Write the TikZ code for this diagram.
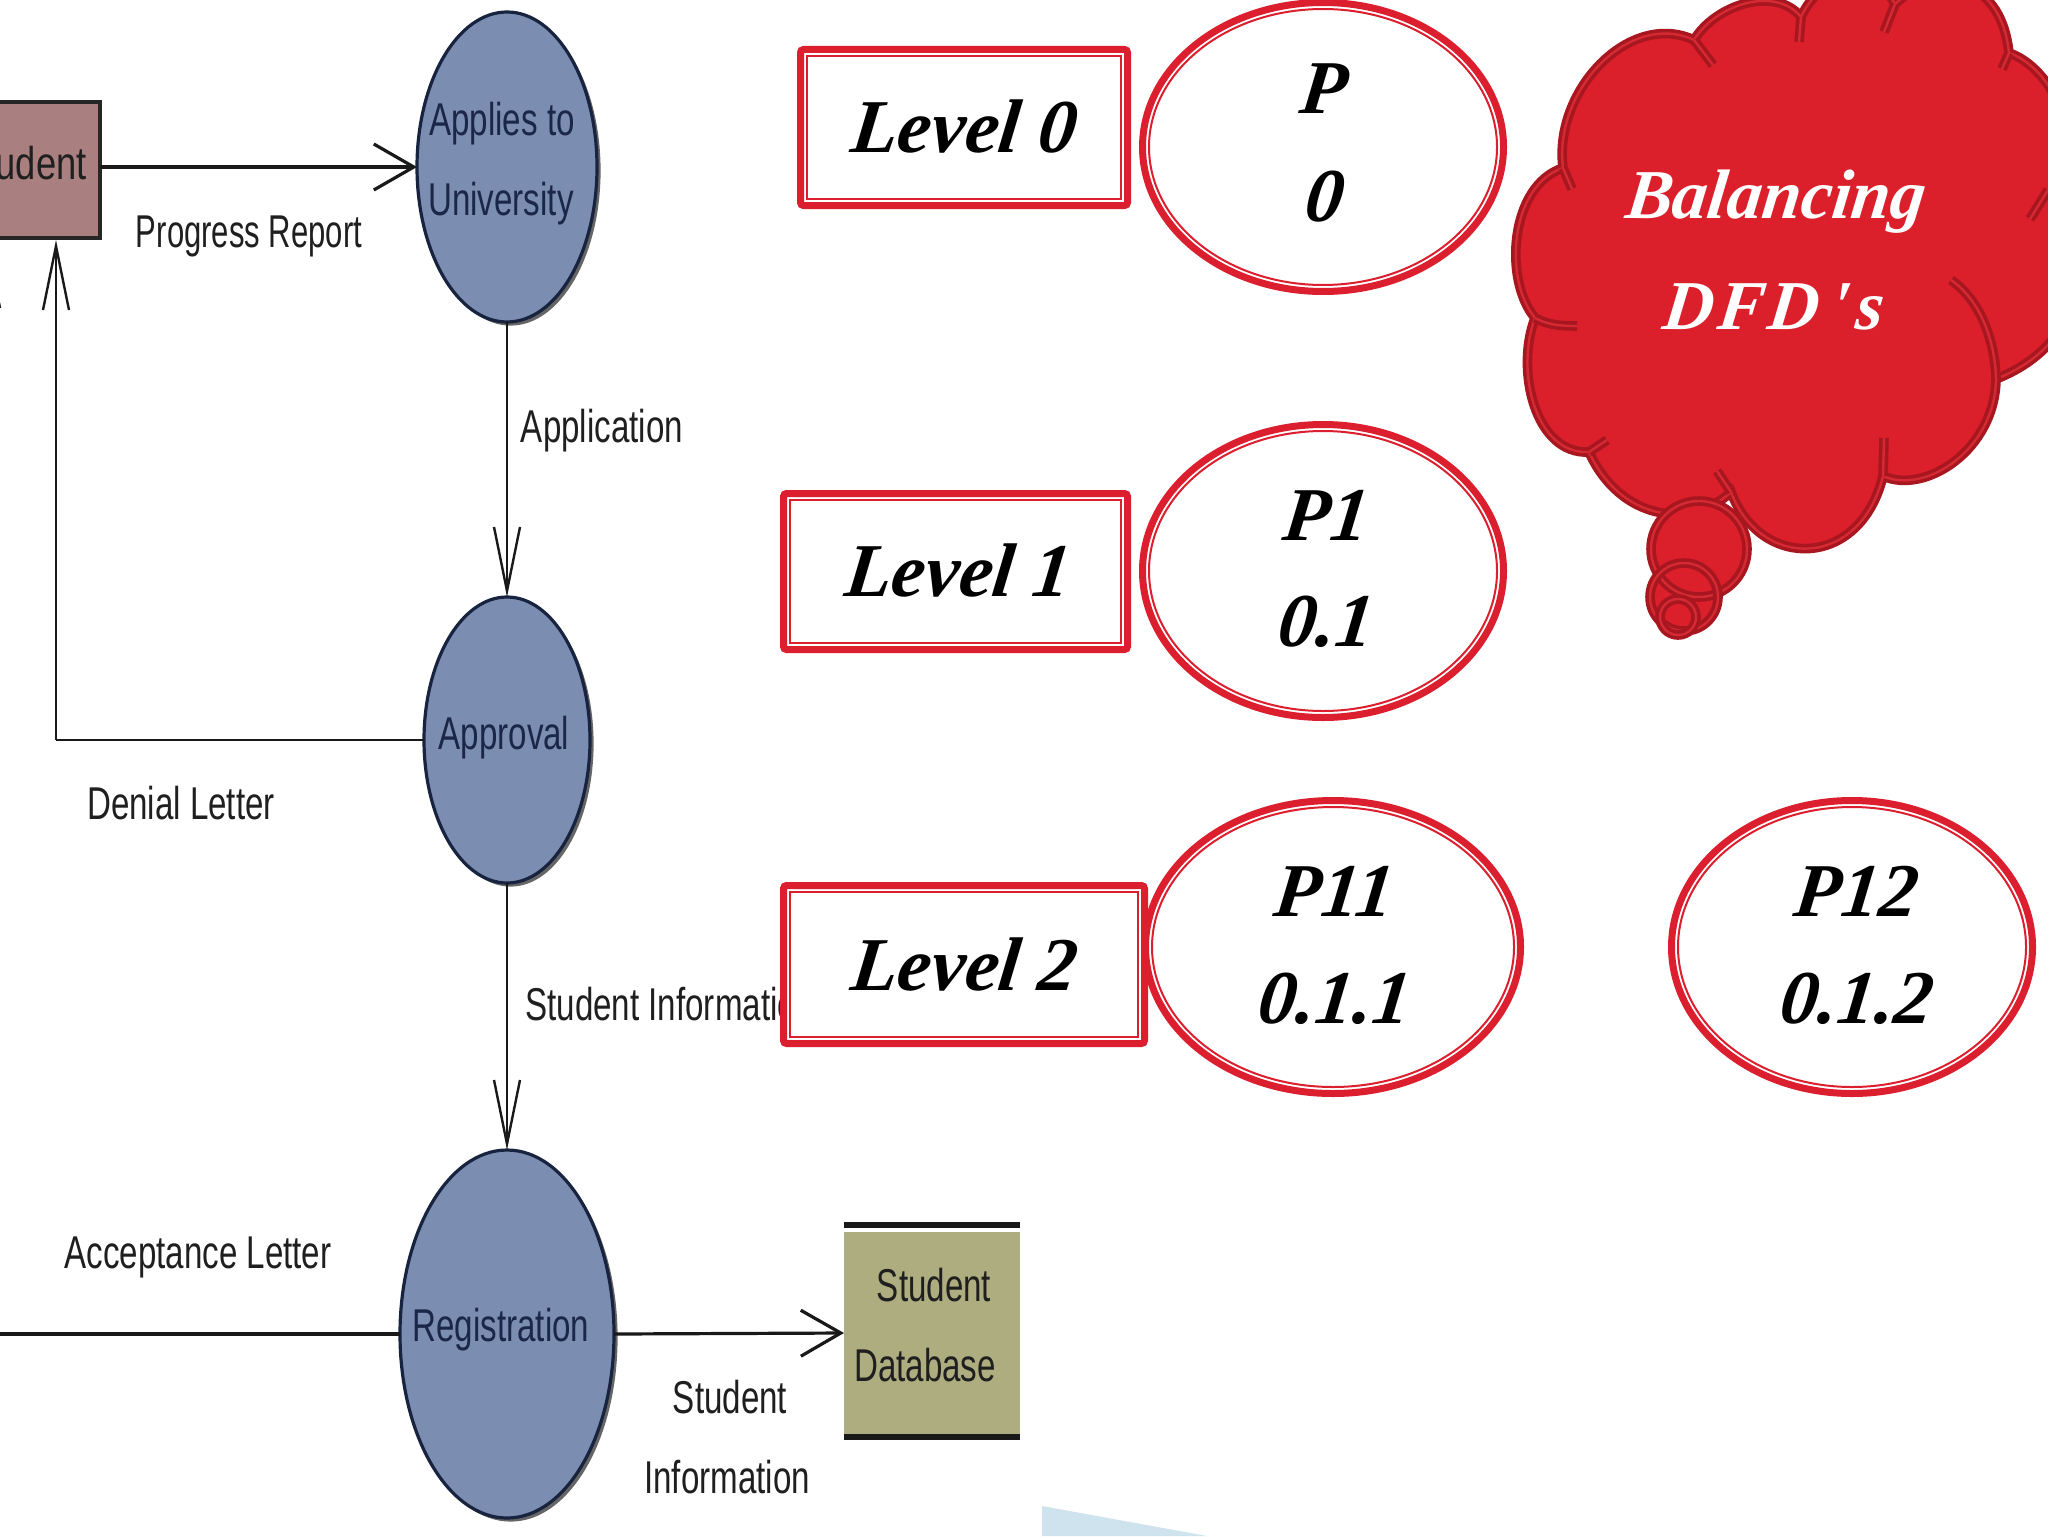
\documentclass[tikz,border=0pt]{standalone}
\usepackage{fontspec}
\usetikzlibrary{arrows.meta,shapes.geometric,shadows}
\setmainfont{Liberation Sans}
\newfontfamily\dfdfont[FakeStretch=0.72]{Liberation Sans}
\newfontfamily\dfdwide[FakeStretch=0.79]{Liberation Sans}
\newfontfamily\dfdnarrow[FakeStretch=0.675]{Liberation Sans}
\newfontfamily\handfont[FakeSlant=0.12]{Liberation Serif}
\definecolor{lvred}{HTML}{DC1F2E}
\definecolor{clouddark}{HTML}{A8161F}
\definecolor{cloudfill}{HTML}{DB1F2B}
\definecolor{cloudgap}{HTML}{D42A33}
\definecolor{procblue}{HTML}{7B8DB0}
\definecolor{procedge}{HTML}{18233F}
\definecolor{inkblue}{HTML}{1B2748}
\definecolor{rosebox}{HTML}{A97F80}
\definecolor{olivebox}{HTML}{AEAD80}
\definecolor{paleblue}{HTML}{CFE3EE}
\tikzset{
  proc/.style={ellipse,draw=procedge,line width=1.6pt,fill=procblue,inner sep=0pt,outer sep=0pt,
    general shadow={shadow xshift=1.8pt,shadow yshift=-1.8pt,fill=black!60}},
  lbl/.style={inner sep=0pt,font=\dfdfont\fontsize{23}{26}\selectfont,text=black!88},
  proclbl/.style={lbl,text=inkblue},
  hflow/.style={draw=black!90,line width=1.6pt,-{Straight Barb[length=20pt,width=23pt]}},
  vflow/.style={draw=black!90,line width=1.2pt,-{Straight Barb[length=32pt,width=13pt]}},
  hline/.style={draw=black!90,line width=1.6pt},
  vline/.style={draw=black!90,line width=1.3pt},
  lvbox/.style={rectangle,draw=lvred,line width=3.5pt,fill=white,rounded corners=1.5pt,inner sep=0pt,outer sep=0pt},
  lvoval/.style={ellipse,draw=lvred,line width=3.5pt,fill=white,inner sep=0pt,outer sep=0pt},
  thinred/.style={draw=lvred,line width=1pt},
  hand/.style={inner sep=0pt,font=\handfont\bfseries\itshape\fontsize{38}{40}\selectfont,text=black},
  handw/.style={inner sep=0pt,font=\handfont\bfseries\itshape\fontsize{35}{38}\selectfont,text=white},
  cloudline/.style={draw=clouddark,line width=1.8pt,double=cloudgap,double distance=1.2pt},
}
\newcommand{\lvlbox}[5]{% name, x0, y0, x1, y1
  \node[lvbox,minimum width={(#4-#2-7)*0.5pt},minimum height={(#5-#3-7)*0.5pt}] (#1) at ({(#2+#4)/2},{(#3+#5)/2}) {};
  \draw[thinred] ([xshift=3.25pt,yshift=3.25pt]#1.south west) rectangle ([xshift=-3.25pt,yshift=-3.25pt]#1.north east);
}
\newcommand{\lvloval}[5]{% name, cx, cy, rx, ry
  \node[lvoval,minimum width={(2*#4-7)*0.5pt},minimum height={(2*#5-7)*0.5pt}] (#1) at (#2,#3) {};
  \draw[thinred] (#1.center) ellipse [x radius=#4-10,y radius=#5-10];
}
\begin{document}
\begin{tikzpicture}[x=0.5pt,y=-0.5pt]
\useasboundingbox (0,0) rectangle (2048,1536);
\clip (0,0) rectangle (2048,1536);
\fill[white] (0,0) rectangle (2048,1536);
\fill[paleblue] (1042,1506) -- (1207,1536) -- (1042,1536) -- cycle;

% left data-flow diagram
\node[rectangle,draw=black!85,line width=2pt,fill=rosebox,inner sep=0pt,outer sep=0pt,minimum width=155pt,minimum height=68pt,
  general shadow={shadow xshift=1pt,shadow yshift=-1pt,fill=black!55}] (student) at (-55,170) {};
\node[proc,minimum width=90pt,minimum height=155pt] (applies) at (507,167) {};
\node[proc,minimum width=83pt,minimum height=143pt] (approval) at (507,740) {};
\node[proc,minimum width=107pt,minimum height=184pt] (registration) at (507,1334) {};
\node[rectangle,fill=olivebox,inner sep=0pt,outer sep=0pt,minimum width=88pt,minimum height=101.5pt] (db) at (932,1333) {};
\draw[line width=3pt,black!90] ([yshift=3.5pt]db.north west) -- ([yshift=3.5pt]db.north east);
\draw[line width=3pt,black!90] ([yshift=-1pt]db.south west) -- ([yshift=-1pt]db.south east);

\coordinate (dncorner) at (56,240);
\coordinate (offleft) at (-13,700);
\coordinate (offtop) at (-13,238);
\coordinate (regleft) at (0,1334);

\draw[hflow] (applies.west -| student.east) -- (applies.west);
\draw[vflow] (applies.south) -- (approval.north);
\draw[vflow] (approval.west -| dncorner) -- (dncorner);
\draw[vline] (approval.west) -- (approval.west -| dncorner);
\draw[vflow] (approval.south) -- (registration.north);
\draw[hline] (regleft) -- (registration.west);
\draw[hflow] (registration.east) -- (db.west);
\draw[vflow] (offleft) -- (offtop);

\node[lbl,font=\dfdwide\fontsize{23}{26}\selectfont] (tstudent) at (24,163) {Student};
\node[proclbl] (tapp1) at (502,124) {Applies to};
\node[proclbl] (tapp2) at (501,204) {University};
\node[proclbl] (tappr) at (504,738) {Approval};
\node[proclbl] (treg) at (501,1330) {Registration};
\node[lbl,font=\dfdnarrow\fontsize{23}{26}\selectfont] (lprog) at (249,236) {Progress Report};
\node[lbl] (lappl) at (602,431) {Application};
\node[lbl] (ldeny) at (181,803) {Denial Letter};
\node[lbl,anchor=west] (lsinfo) at (525,1004) {Student Information};
\node[lbl] (lacc) at (198,1257) {Acceptance Letter};
\node[lbl] (ls1) at (730,1397) {Student};
\node[lbl] (ls2) at (727,1477) {Information};
\node[lbl] (td1) at (934,1285) {Student};
\node[lbl] (td2) at (925,1365) {Database};

% level boxes and process ovals
\lvlbox{lv0}{797}{46}{1131}{209}
\lvlbox{lv1}{780}{490}{1131}{653}
\lvlbox{lv2}{780}{882}{1148}{1047}
\lvloval{p0}{1323}{147}{184}{148}
\lvloval{p1}{1323}{571}{184}{150}
\lvloval{p11}{1333}{947}{191}{150}
\lvloval{p12}{1852}{947}{184}{150}

\node[hand] (tl0) at (962,127) {Level 0};
\node[hand] (tl1) at (956,570) {Level 1};
\node[hand] (tl2) at (962,964) {Level 2};
\node[hand] (t01) at (1322,89) {P};
\node[hand] (t02) at (1322,197) {0};
\node[hand] (t11) at (1324,515) {P1};
\node[hand] (t12) at (1324,622) {0.1};
\node[hand] (t21) at (1332,891) {P11};
\node[hand] (t22) at (1332,999) {0.1.1};
\node[hand] (t31) at (1854,891) {P12};
\node[hand] (t32) at (1854,999) {0.1.2};

% thought cloud
\path[fill=cloudfill,cloudline]
  (1563,168) .. controls (1553,90) and (1630,10) .. (1694,40)
  .. controls (1715,5) and (1775,-15) .. (1801,17)
  .. controls (1820,-25) and (1870,-40) .. (1895,4)
  .. controls (1930,-30) and (2000,-30) .. (2009,53)
  .. controls (2045,65) and (2080,120) .. (2070,190)
  .. controls (2100,280) and (2070,350) .. (1996,379)
  .. controls (1995,450) and (1925,495) .. (1883,476)
  .. controls (1860,570) and (1760,570) .. (1731,492)
  .. controls (1690,530) and (1620,520) .. (1589,452)
  .. controls (1535,455) and (1515,370) .. (1535,318)
  .. controls (1503,280) and (1510,185) .. (1563,168) -- cycle;
\draw[cloudline]
  (1694,40) -- (1713,65)
  (1801,17) -- (1799,42)
  (1895,4) -- (1884,32)
  (2009,53) -- (2002,69)
  (2048,190) -- (2030,219)
  (1996,379) .. controls (1995,340) and (1980,300) .. (1951,280)
  (1883,476) -- (1884,438)
  (1731,492) -- (1717,471)
  (1589,452) -- (1607,440)
  (1535,318) .. controls (1550,326) and (1565,326) .. (1577,326)
  (1563,168) -- (1572,189);
\fill[cloudfill] (1699,549) ellipse [x radius=48,y radius=48];
\fill[cloudfill] (1684,597) ellipse [x radius=34,y radius=34];
\draw[cloudline] (1699,549) ellipse [x radius=48,y radius=48];
\draw[cloudline] (1684,597) ellipse [x radius=34,y radius=34];
\draw[cloudline] (1678,617) ellipse [x radius=18,y radius=18];
\node[handw] (tbal) at (1774,202) {Balancing};
\node[handw] (tdfd) at (1772,307) {D\kern2pt F\kern2pt D\kern5pt'\kern4pt s};
\end{tikzpicture}
\end{document}
